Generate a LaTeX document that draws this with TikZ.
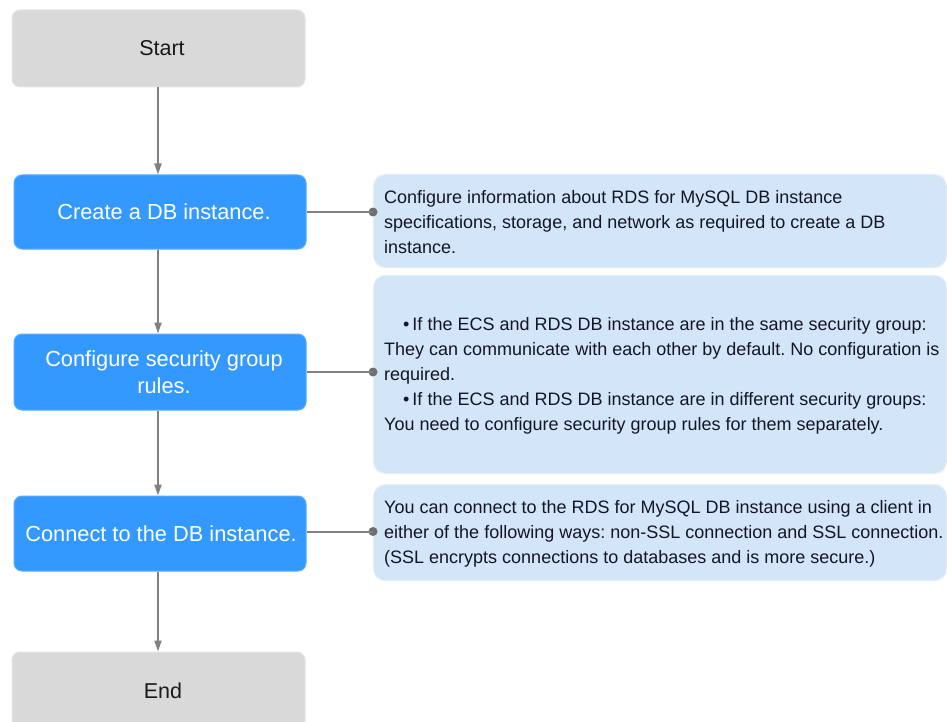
\documentclass[tikz,border=0pt]{standalone}
\usepackage{fontspec}
\setmainfont{Liberation Sans}
\usetikzlibrary{arrows.meta}
\definecolor{termgray}{HTML}{D9D9D9}
\definecolor{termborder}{HTML}{E4E4E4}
\definecolor{termtext}{HTML}{1A1A1A}
\definecolor{stepblue}{HTML}{3399FF}
\definecolor{stepborder}{HTML}{5AADFF}
\definecolor{infoblue}{HTML}{D3E6F8}
\definecolor{infoborder}{HTML}{E2EEFA}
\definecolor{infotextcol}{HTML}{14142A}
\definecolor{linegray}{HTML}{808080}
\definecolor{dotgray}{HTML}{6E6E6E}
\frenchspacing
\begin{document}
\begin{tikzpicture}[x=1pt,y=-1pt,
 termbox/.style={draw=termborder, line width=1pt, fill=termgray, rounded corners=8pt, minimum width=293pt, minimum height=77pt, font=\fontsize{21.5}{27}\selectfont, text=termtext},
 stepbox/.style={draw=stepborder, line width=1pt, fill=stepblue, rounded corners=8pt, minimum width=292pt, text=white, align=center, font=\fontsize{21.8}{27}\selectfont},
 infobox/.style={fill=infoblue, draw=infoborder, line width=1pt, rounded corners=12pt, minimum width=573pt, anchor=north west, inner sep=0pt},
 infotext/.style={anchor=west, align=left, inner sep=0pt, font=\fontsize{18}{25}\selectfont, text=infotextcol},
 flow/.style={draw=linegray, line width=2pt, -{Triangle[width=7pt,length=11pt]}},
 link/.style={draw=linegray, line width=2pt},
 dot/.style={circle, fill=dotgray, inner sep=0pt, minimum size=9pt}
]
\useasboundingbox[fill=white] (0,0) rectangle (947,722);
% left column
\node[termbox] (start) at (158.5,48.5) {\hspace{7pt}Start};
\node[stepbox, minimum height=74pt] (c1) at (160,212) {\hspace{8pt}Create a DB instance.};
\node[stepbox, minimum height=76pt] (c2) at (160,372) {\hspace{8pt}Configure security group\\\hspace{8pt}rules.};
\node[stepbox, minimum height=75pt] (c3) at (160,533.5) {\hspace{2pt}Connect to the DB instance.};
\node[termbox] (end) at (158.5,690.5) {\hspace{9pt}End};
% flow arrows
\coordinate (a0) at (158,87);
\draw[flow] (start.south -| a0) -- (c1.north -| a0);
\draw[flow] (c1.south -| a0) -- (c2.north -| a0);
\draw[flow] (c2.south -| a0) -- (c3.north -| a0);
\draw[flow] (c3.south -| a0) -- (end.north -| a0);
% info boxes
\node[infobox, minimum height=93pt] (d1) at (373,174) {};
\node[infobox, minimum height=198pt] (d2) at (373,275) {};
\node[infobox, minimum height=96pt] (d3) at (373,484) {};
\node[infotext] (t1) at ([xshift=11pt,yshift=-1.5pt]d1.west) {Configure information about RDS for MySQL DB instance\\specifications, storage, and network as required to create a DB\\instance.};
\node[infotext] (t2) at ([xshift=11pt,yshift=-1.5pt]d2.west) {\hspace{19pt}•\,If the ECS and RDS DB instance are in the same security group:\\They can communicate with each other by default. No configuration is\\required.\\\hspace{19pt}•\,If the ECS and RDS DB instance are in different security groups:\\You need to configure security group rules for them separately.};
\node[infotext] (t3) at ([xshift=11pt,yshift=-1.5pt]d3.west) {You can connect to the RDS for MySQL DB instance using a client in\\either of the following ways: non-SSL connection and SSL connection.\\(SSL encrypts connections to databases and is more secure.)};
% links
\node[dot] (p1) at (c1.east -| d1.west) {};
\node[dot] (p2) at (c2.east -| d2.west) {};
\node[dot] (p3) at ([yshift=2pt]c3.east -| d3.west) {};
\draw[link] (c1.east) -- (p1.center);
\draw[link] (c2.east) -- (p2.center);
\draw[link] ([yshift=2pt]c3.east) -- (p3.center);
\end{tikzpicture}
\end{document}
